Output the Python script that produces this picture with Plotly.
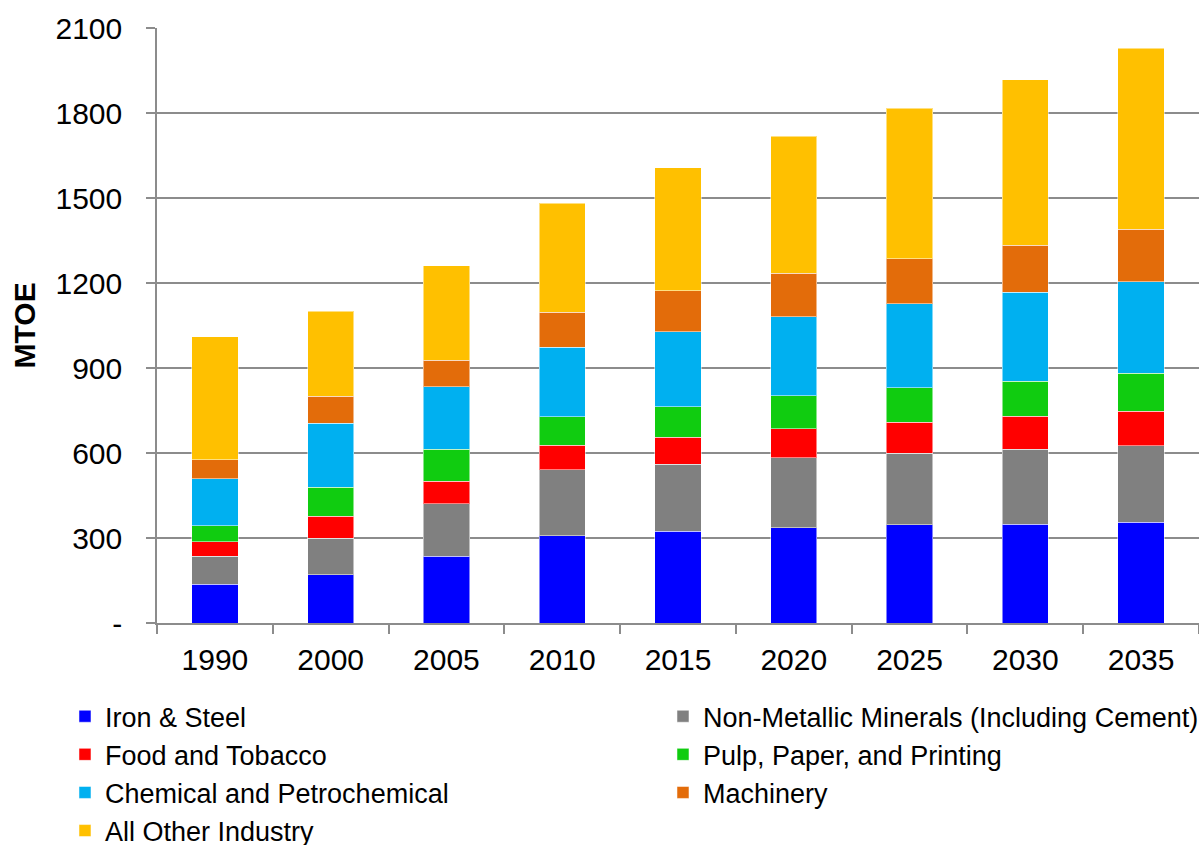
import plotly.graph_objects as go

years = ["1990", "2000", "2005", "2010", "2015", "2020", "2025", "2030", "2035"]

iron_steel = [137, 171, 235, 308, 323, 336, 346, 349, 356]
non_metallic = [98, 129, 186, 233, 238, 247, 253, 265, 269]
food_tobacco = [52, 76, 79, 87, 95, 102, 110, 116, 123]
pulp_paper = [57, 103, 114, 100, 108, 117, 121, 124, 134]
chemical = [165, 226, 219, 246, 264, 279, 296, 313, 322]
machinery = [67, 95, 95, 122, 144, 154, 159, 166, 186]
other = [435, 300, 333, 385, 435, 483, 532, 584, 639]

# name, values, colour, which legend column
series = [
    ("Iron & Steel", iron_steel, "#0000FF", "legend"),
    ("Non-Metallic Minerals (Including Cement)", non_metallic, "#808080", "legend2"),
    ("Food and Tobacco", food_tobacco, "#FF0000", "legend"),
    ("Pulp, Paper, and Printing", pulp_paper, "#10CC10", "legend2"),
    ("Chemical and Petrochemical", chemical, "#00B0F0", "legend"),
    ("Machinery", machinery, "#E36C0A", "legend2"),
    ("All Other Industry", other, "#FFC000", "legend"),
]

y_ticks = [0, 300, 600, 900, 1200, 1500, 1800, 2100]
y_tick_text = ["-", "300", "600", "900", "1200", "1500", "1800", "2100"]

FONT = "Liberation Sans, Arial, sans-serif"
GRID = "#8c8c8c"

fig = go.Figure()
for name, vals, color, leg in series:
    fig.add_trace(go.Bar(
        x=years, y=vals, name=name, legend=leg, legendgroup=name,
        marker=dict(color=color, line=dict(color="rgba(255,255,255,0.5)", width=1)),
    ))

legend_style = dict(
    orientation="v", xanchor="left", yanchor="top", y=-0.1163,
    font=dict(size=27, family=FONT, color="black"),
    itemwidth=30, traceorder="normal", tracegroupgap=5,
    bgcolor="rgba(0,0,0,0)",
)

fig.update_layout(
    barmode="stack",
    bargap=0.6,
    width=1199, height=845,
    margin=dict(l=157, r=0, t=28, b=222, autoexpand=False),
    paper_bgcolor="white", plot_bgcolor="white",
    font=dict(family=FONT, color="black"),
    showlegend=True,
    legend=dict(x=-0.0883, **legend_style),
    legend2=dict(x=0.4856, **legend_style),
)
fig.update_xaxes(
    showline=True, linecolor=GRID, linewidth=1.5,
    ticks="outside", tickson="boundaries", ticklen=9, tickcolor=GRID, tickwidth=1.5,
    ticklabelstandoff=9,
    tickfont=dict(size=30, family=FONT, color="black"),
    showgrid=False,
)
fig.update_yaxes(
    range=[0, 2100], tickvals=y_ticks, ticktext=y_tick_text,
    showline=True, linecolor=GRID, linewidth=1.5,
    ticks="outside", ticklen=9, tickcolor=GRID, tickwidth=1.5,
    ticklabelstandoff=18,
    showgrid=True, gridcolor=GRID, gridwidth=1.5,
    tickfont=dict(size=30, family=FONT, color="black"),
)

# y-axis title as an annotation so it sits where the original has it
fig.add_annotation(
    text="<b>MTOE</b>", xref="paper", yref="paper", x=-0.1267, y=0.5,
    xanchor="center", yanchor="middle", textangle=-90, showarrow=False,
    font=dict(size=30, family=FONT, color="black"),
)

# drop the browser's default 8px body margin so the figure fills the window
fig.write_html(
    "out.html",
    config={"displayModeBar": False},
    post_script="document.body.style.margin='0';document.body.style.overflow='hidden';",
)
